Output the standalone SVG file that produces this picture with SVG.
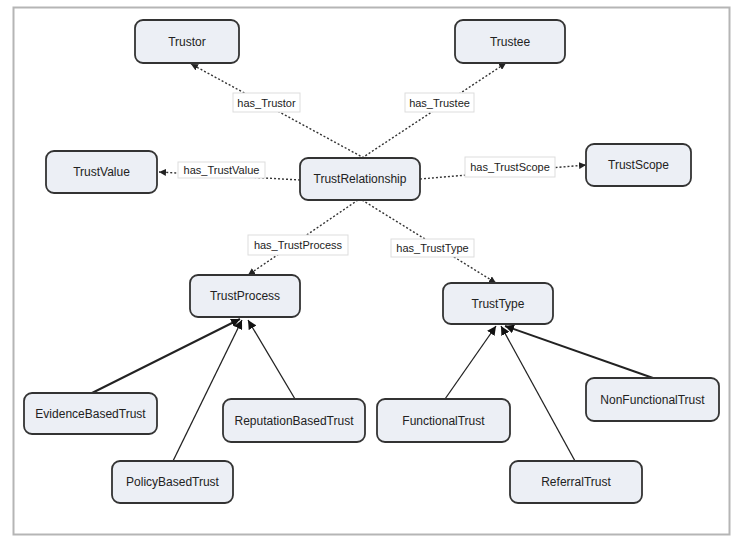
<svg xmlns="http://www.w3.org/2000/svg" width="736" height="536" viewBox="0 0 736 536">
<defs>
<style>
.node rect{fill:#eceff5;stroke:#333;stroke-width:1.8}
.node text{font-family:"Liberation Sans",Arial,sans-serif;font-size:12px;fill:#222;text-anchor:middle;dominant-baseline:central}
.dash{stroke:#333;stroke-width:1.4;stroke-dasharray:2,2;fill:none}
.solid{stroke:#222;stroke-width:1.3;fill:none}
.thick{stroke:#222;stroke-width:2;fill:none}
.lbl rect{fill:#fff;stroke:#ddd;stroke-width:1}
.lbl text{font-family:"Liberation Sans",Arial,sans-serif;font-size:11px;fill:#222;text-anchor:middle;dominant-baseline:central}
</style>
<marker id="arr" viewBox="0 0 10 10" refX="10" refY="5" markerWidth="7" markerHeight="7" markerUnits="userSpaceOnUse" orient="auto">
<path d="M0,0 L10,5 L0,10 z" fill="#222"/>
</marker>
<marker id="arrB" viewBox="0 0 10 10" refX="10" refY="5" markerWidth="9" markerHeight="9" markerUnits="userSpaceOnUse" orient="auto">
<path d="M0,0 L10,5 L0,10 z" fill="#111"/>
</marker>
</defs>
<rect x="0" y="0" width="736" height="536" fill="#fff"/>
<rect x="13.5" y="7.5" width="716" height="527" fill="#fff" stroke="#b5b5b5" stroke-width="2"/>
<g id="connectors">
<line class="dash" x1="364" y1="158" x2="191" y2="64" marker-end="url(#arr)"/>
<line class="dash" x1="362" y1="158" x2="506" y2="63" marker-end="url(#arr)"/>
<line class="dash" x1="300" y1="180" x2="159" y2="172" marker-end="url(#arr)"/>
<line class="dash" x1="420" y1="179" x2="586" y2="165" marker-end="url(#arr)"/>
<line class="dash" x1="358" y1="200" x2="248" y2="275" marker-end="url(#arr)"/>
<line class="dash" x1="362" y1="200" x2="496" y2="283" marker-end="url(#arr)"/>
<line class="thick" x1="92" y1="393" x2="240" y2="319" marker-end="url(#arrB)"/>
<line class="solid" x1="173" y1="461" x2="242" y2="320" marker-end="url(#arrB)"/>
<line class="solid" x1="295" y1="399" x2="248" y2="320" marker-end="url(#arrB)"/>
<line class="solid" x1="445" y1="399" x2="496" y2="326" marker-end="url(#arrB)"/>
<line class="solid" x1="575" y1="461" x2="501" y2="326" marker-end="url(#arrB)"/>
<line class="thick" x1="653" y1="378" x2="505" y2="326" marker-end="url(#arrB)"/>
<g class="lbl"><rect x="233" y="93" width="67" height="19"/><text x="266.5" y="102.5">has_Trustor</text></g>
<g class="lbl"><rect x="405" y="93" width="69" height="19"/><text x="439.5" y="102.5">has_Trustee</text></g>
<g class="lbl"><rect x="178" y="162" width="87" height="16"/><text x="221.5" y="170">has_TrustValue</text></g>
<g class="lbl"><rect x="465" y="157" width="90" height="20"/><text x="510" y="167">has_TrustScope</text></g>
<g class="lbl"><rect x="248" y="235" width="100" height="20"/><text x="298" y="245">has_TrustProcess</text></g>
<g class="lbl"><rect x="391" y="239" width="83" height="18"/><text x="432.5" y="248">has_TrustType</text></g>
</g>
<g id="Trustor" class="node"><rect x="135" y="20" width="104" height="43" rx="8"/><text x="187" y="41.5">Trustor</text></g>
<g id="Trustee" class="node"><rect x="455" y="20" width="110" height="43" rx="8"/><text x="510" y="41.5">Trustee</text></g>
<g id="TrustValue" class="node"><rect x="46" y="151" width="111" height="42" rx="8"/><text x="101.5" y="172">TrustValue</text></g>
<g id="TrustRelationship" class="node"><rect x="300" y="158" width="120" height="42" rx="8"/><text x="360" y="179">TrustRelationship</text></g>
<g id="TrustScope" class="node"><rect x="586" y="144" width="105" height="42" rx="8"/><text x="638.5" y="165">TrustScope</text></g>
<g id="TrustProcess" class="node"><rect x="190" y="275" width="110" height="42" rx="8"/><text x="245" y="296">TrustProcess</text></g>
<g id="TrustType" class="node"><rect x="443" y="283" width="110" height="41" rx="8"/><text x="498" y="303.5">TrustType</text></g>
<g id="EvidenceBasedTrust" class="node"><rect x="24" y="393" width="133" height="41" rx="8"/><text x="90.5" y="413.5">EvidenceBasedTrust</text></g>
<g id="ReputationBasedTrust" class="node"><rect x="223" y="399" width="142" height="43" rx="8"/><text x="294" y="420.5">ReputationBasedTrust</text></g>
<g id="PolicyBasedTrust" class="node"><rect x="112" y="461" width="121" height="42" rx="8"/><text x="172.5" y="482">PolicyBasedTrust</text></g>
<g id="FunctionalTrust" class="node"><rect x="377" y="399" width="133" height="43" rx="8"/><text x="443.5" y="420.5">FunctionalTrust</text></g>
<g id="NonFunctionalTrust" class="node"><rect x="586" y="378" width="133" height="43" rx="8"/><text x="652.5" y="399.5">NonFunctionalTrust</text></g>
<g id="ReferralTrust" class="node"><rect x="510" y="461" width="132" height="42" rx="8"/><text x="576" y="482">ReferralTrust</text></g>
</svg>
